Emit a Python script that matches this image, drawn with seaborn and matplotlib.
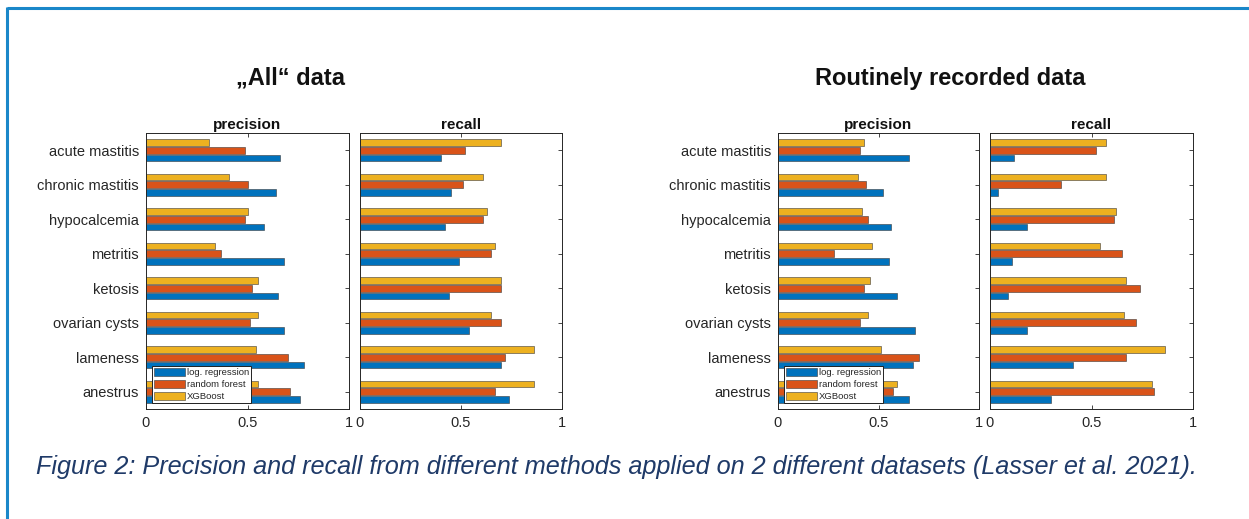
import matplotlib
matplotlib.use("Agg")
import matplotlib.pyplot as plt
from matplotlib.lines import Line2D
from matplotlib.patches import Patch
import pandas as pd
import seaborn as sns

# Diseases, listed top to bottom
diseases = ["acute mastitis", "chronic mastitis", "hypocalcemia", "metritis",
            "ketosis", "ovarian cysts", "lameness", "anestrus"]
methods = ["log. regression", "random forest", "XGBoost"]
colors = {"log. regression": "#0072BD", "random forest": "#D95319", "XGBoost": "#EDB120"}

# "All" data
all_precision_lr = [0.66, 0.64, 0.58, 0.68, 0.65, 0.68, 0.78, 0.76]
all_precision_rf = [0.49, 0.50, 0.49, 0.37, 0.52, 0.51, 0.70, 0.71]
all_precision_xgb = [0.31, 0.41, 0.50, 0.34, 0.55, 0.55, 0.54, 0.55]
all_recall_lr = [0.40, 0.45, 0.42, 0.49, 0.44, 0.54, 0.70, 0.74]
all_recall_rf = [0.52, 0.51, 0.61, 0.65, 0.70, 0.70, 0.72, 0.67]
all_recall_xgb = [0.70, 0.61, 0.63, 0.67, 0.70, 0.65, 0.86, 0.86]

# Routinely recorded data
rout_precision_lr = [0.65, 0.52, 0.56, 0.55, 0.59, 0.68, 0.67, 0.65]
rout_precision_rf = [0.41, 0.44, 0.45, 0.28, 0.43, 0.41, 0.70, 0.57]
rout_precision_xgb = [0.43, 0.40, 0.42, 0.47, 0.46, 0.45, 0.51, 0.59]
rout_recall_lr = [0.12, 0.04, 0.18, 0.11, 0.09, 0.18, 0.41, 0.30]
rout_recall_rf = [0.52, 0.35, 0.61, 0.65, 0.74, 0.72, 0.67, 0.81]
rout_recall_xgb = [0.57, 0.57, 0.62, 0.54, 0.67, 0.66, 0.86, 0.80]

x_ticks = [0, 0.5, 1]
x_ticklabels = ["0", "0.5", "1"]


def long_table(lr, rf, xgb):
    rows = []
    for name, vals in zip(methods, [lr, rf, xgb]):
        for d, v in zip(diseases, vals):
            rows.append({"disease": d, "method": name, "value": v})
    return pd.DataFrame(rows)


sns.set_theme(style="white")
plt.rcParams["font.family"] = ["Liberation Sans", "DejaVu Sans"]

fig = plt.figure(figsize=(12.49, 5.19), dpi=100)
W, H = 1249, 519


def axes_px(x0, y0, x1, y1):
    return fig.add_axes([x0 / W, 1 - y1 / H, (x1 - x0) / W, (y1 - y0) / H])


text_col = "#262626"


def draw_panel(ax, lr, rf, xgb, title, show_labels, legend):
    df = long_table(lr, rf, xgb)
    sns.barplot(data=df, x="value", y="disease", hue="method", order=diseases,
                hue_order=["XGBoost", "random forest", "log. regression"],
                palette=colors, orient="h", width=0.66, gap=0.12, saturation=1,
                edgecolor="#3a3a3a", linewidth=0.4, legend=False, ax=ax, errorbar=None)
    ax.set_xlim(0, 1)
    ax.set_ylim(7.5, -0.5)
    ax.set_xticks(x_ticks)
    ax.set_xticklabels(x_ticklabels)
    ax.set_xlabel("")
    ax.set_ylabel("")
    ax.set_title(title, fontsize=11, fontweight="bold", color="#111111", pad=3)
    ax.tick_params(direction="in", length=3, width=0.6, top=True, right=True,
                   left=True, bottom=True, colors=text_col, labelsize=10.5, pad=5)
    ax.tick_params(axis="x", pad=5)
    if not show_labels:
        ax.set_yticklabels([])
    for s in ax.spines.values():
        s.set_visible(True)
        s.set_color(text_col)
        s.set_linewidth(0.7)
    if legend:
        handles = [Patch(facecolor=colors[m], edgecolor="#3a3a3a", linewidth=0.4) for m in methods]
        leg = ax.legend(handles, methods, loc="lower left", bbox_to_anchor=(0.03, 0.02),
                        fontsize=6.8, frameon=True, fancybox=False, framealpha=1,
                        edgecolor="#222222", borderpad=0.25, labelspacing=0.25,
                        handlelength=3.2, handleheight=1.0, handletextpad=0.2,
                        borderaxespad=0)
        leg.get_frame().set_linewidth(0.7)
        for t in leg.get_texts():
            t.set_color(text_col)


ax1 = axes_px(146, 133, 349, 409)
ax2 = axes_px(360, 133, 562, 409)
ax3 = axes_px(778, 133, 979, 409)
ax4 = axes_px(990, 133, 1193, 409)

draw_panel(ax1, all_precision_lr, all_precision_rf, all_precision_xgb, "precision", True, True)
draw_panel(ax2, all_recall_lr, all_recall_rf, all_recall_xgb, "recall", False, False)
draw_panel(ax3, rout_precision_lr, rout_precision_rf, rout_precision_xgb, "precision", True, True)
draw_panel(ax4, rout_recall_lr, rout_recall_rf, rout_recall_xgb, "recall", False, False)

fig.text(290 / W, 1 - 78 / H, "\u201eAll\u201c data", ha="center", va="center",
         fontsize=17, fontweight="bold", color="#111111")
fig.text(950 / W, 1 - 78 / H, "Routinely recorded data", ha="center", va="center",
         fontsize=17, fontweight="bold", color="#111111")

fig.text(36 / W, 1 - 467 / H,
         "Figure 2: Precision and recall from different methods applied on 2 different datasets (Lasser et al. 2021).",
         ha="left", va="center", fontsize=18.2, style="italic", color="#1f3a68")

# Blue frame on the top and left edges
frame_col = "#1a87c9"
fig.add_artist(Line2D([7 / W, 1], [1 - 8 / H, 1 - 8 / H], transform=fig.transFigure,
                      color=frame_col, linewidth=2.2, solid_capstyle="butt"))
fig.add_artist(Line2D([7 / W, 7 / W], [1 - 7 / H, 0], transform=fig.transFigure,
                      color=frame_col, linewidth=2.2, solid_capstyle="butt"))

fig.savefig("out.png", dpi=100)
